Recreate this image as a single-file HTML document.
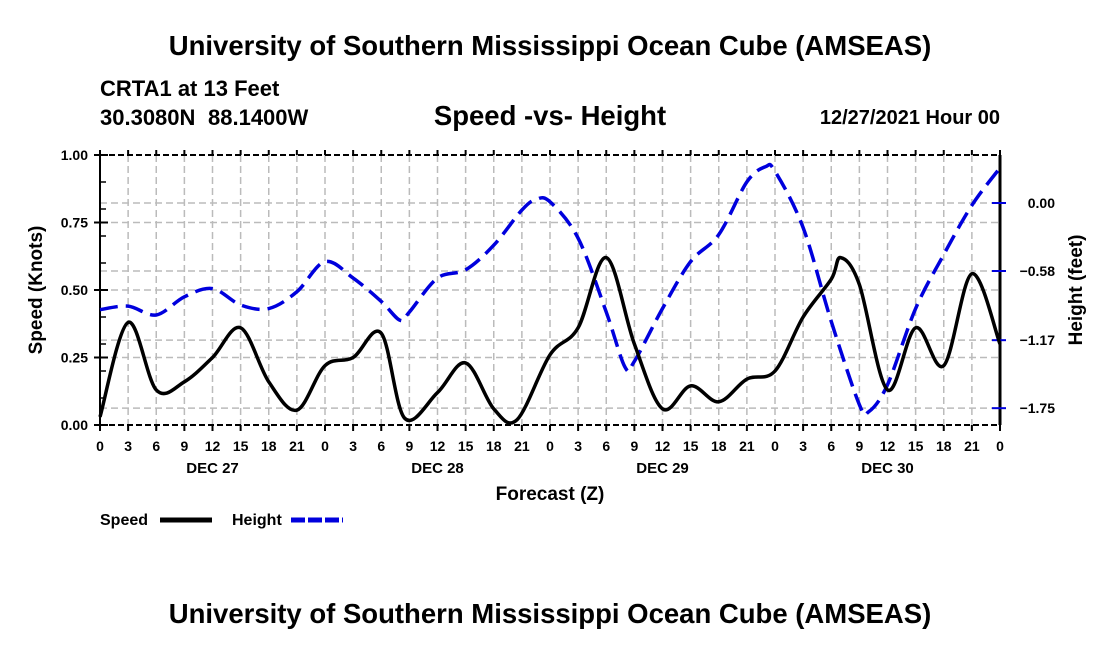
<!DOCTYPE html>
<html><head><meta charset="utf-8"><style>
body{margin:0;background:#fff;}
svg text{font-family:"Liberation Sans",Arial,sans-serif;font-weight:bold;fill:#000;}
</style></head><body>
<svg id="chart" width="1100" height="650" viewBox="0 0 1100 650">
<text x="550" y="55" font-size="27.5" text-anchor="middle">University of Southern Mississippi Ocean Cube (AMSEAS)</text>
<text x="100" y="96" font-size="22">CRTA1 at 13 Feet</text>
<text x="100" y="125" font-size="22">30.3080N</text>
<text x="208" y="125" font-size="22">88.1400W</text>
<text x="550" y="125" font-size="27.5" text-anchor="middle">Speed -vs- Height</text>
<text x="1000" y="124" font-size="20" text-anchor="end">12/27/2021 Hour 00</text>
<g id="grid"></g><g id="axes"></g><g id="series"></g>
<text x="550" y="500" font-size="19" text-anchor="middle">Forecast (Z)</text>
<text transform="translate(42,290) rotate(-90)" font-size="19" text-anchor="middle">Speed (Knots)</text>
<text transform="translate(1082,290) rotate(-90)" font-size="19" text-anchor="middle">Height (feet)</text>
<g>
<text x="100" y="525" font-size="16">Speed</text>
<line x1="160" y1="520" x2="212" y2="520" stroke="#000" stroke-width="5"/>
<text x="232" y="525" font-size="16">Height</text>
<line x1="291" y1="520" x2="343" y2="520" stroke="#0000dd" stroke-width="5" stroke-dasharray="14,3"/>
</g>
<text x="550" y="623" font-size="27.5" text-anchor="middle">University of Southern Mississippi Ocean Cube (AMSEAS)</text>
</svg>
<script>
const speedHours=[0,3,6,9,12,15,18,21,24,27,30,32.5,36,39,42,44.5,48,51,54,57,60,63,66,69,72,75,78,79,81,84,87,90,93,96];
const speedValues=[0.03,0.38,0.13,0.16,0.25,0.36,0.16,0.055,0.22,0.25,0.34,0.025,0.12,0.23,0.06,0.02,0.26,0.36,0.62,0.30,0.06,0.145,0.086,0.17,0.2,0.40,0.54,0.62,0.52,0.13,0.36,0.22,0.56,0.30];
const heightHours=[0,3,6,9,12,15,18,21,24,27,30,32,33,36,39,42,45,46.5,48,51,54,56,57,60,63,66,69,71,72,75,78,81,82,84,87,90,93,96];
const heightValues=[-0.91,-0.88,-0.955,-0.80,-0.73,-0.87,-0.90,-0.757,-0.50,-0.64,-0.84,-1.0,-0.93,-0.64,-0.57,-0.36,-0.06,0.03,0.01,-0.30,-0.93,-1.40,-1.35,-0.90,-0.50,-0.27,0.18,0.31,0.27,-0.21,-1.01,-1.72,-1.78,-1.55,-0.90,-0.44,-0.02,0.30];
const xTickLabels=["0","3","6","9","12","15","18","21"];
const dayLabels=["DEC 27","DEC 28","DEC 29","DEC 30"];
const leftTicks=[0,0.25,0.5,0.75,1.0];
const rightTicks=[0,-0.58,-1.17,-1.75];

const L=100,R=1000,T=155,B=425,NS="http://www.w3.org/2000/svg";
const xS=h=>L+h*(R-L)/96;
const yL=v=>B-v*(B-T);
const yR=v=>203-v*68/0.58;
function el(tag,attrs,parent,txt){const e=document.createElementNS(NS,tag);for(const k in attrs)e.setAttribute(k,attrs[k]);if(txt!==undefined)e.textContent=txt;parent.appendChild(e);return e;}
const grid=document.getElementById('grid'),axes=document.getElementById('axes'),series=document.getElementById('series');
for(let h=3;h<96;h+=3){const g=el('line',{x1:xS(h),x2:xS(h),y1:T,y2:B,stroke:'#bbb','stroke-width':1.5,'stroke-dasharray':'7,4'},grid);

}
leftTicks.forEach(v=>{if(v>0&&v<1){const g=el('line',{x1:L,x2:R,y1:yL(v),y2:yL(v),stroke:'#bbb','stroke-width':1.5,'stroke-dasharray':'7,4'},grid);

}});
rightTicks.forEach(v=>{const g=el('line',{x1:L,x2:R,y1:yR(v),y2:yR(v),stroke:'#bbb','stroke-width':1.5,'stroke-dasharray':'7,4'},grid);

});
let a=el('line',{x1:L,x2:L,y1:T,y2:B,stroke:'#000','stroke-width':2},axes);


a=el('line',{x1:R,x2:R,y1:T,y2:B,stroke:'#000','stroke-width':3},axes);


a=el('line',{x1:L,x2:R,y1:B,y2:B,stroke:'#000','stroke-width':2,'stroke-dasharray':'6,3'},axes);


a=el('line',{x1:L,x2:R,y1:T,y2:T,stroke:'#000','stroke-width':2,'stroke-dasharray':'6,3'},axes);


for(let i=0;i<=32;i++){const h=i*3,x=xS(h);
el('line',{x1:x,x2:x,y1:B,y2:B+6,stroke:'#000','stroke-width':2},axes);
el('line',{x1:x,x2:x,y1:T,y2:T-5,stroke:'#000','stroke-width':2},axes);
const t=el('text',{x:x,y:451,'font-size':14,'text-anchor':'middle'},axes,i===32?"0":xTickLabels[i%8]);

}
dayLabels.forEach((d,i)=>{const t=el('text',{x:xS(12+24*i),y:473,'font-size':15,'text-anchor':'middle'},axes,d);

});
for(let v=0.1;v<1;v+=0.1){el('line',{x1:L,x2:L+6,y1:yL(v),y2:yL(v),stroke:'#000','stroke-width':1.5},axes);}
leftTicks.forEach(v=>{el('line',{x1:L-6,x2:L+8,y1:yL(v),y2:yL(v),stroke:'#000','stroke-width':2},axes);
const t=el('text',{x:L-12,y:yL(v)+5,'font-size':14,'text-anchor':'end'},axes,v.toFixed(2));

});
rightTicks.forEach(v=>{el('line',{x1:R-8,x2:R+6,y1:yR(v),y2:yR(v),stroke:'#0000dd','stroke-width':2},axes);
const t=el('text',{x:R+55,y:yR(v)+5,'font-size':14,'text-anchor':'end'},axes,v.toFixed(2).replace('-','\u2212'));

});
function smooth(pts){let d=`M${pts[0][0]},${pts[0][1]}`;for(let i=0;i<pts.length-1;i++){const p0=pts[Math.max(0,i-1)],p1=pts[i],p2=pts[i+1],p3=pts[Math.min(pts.length-1,i+2)];
const c1=[p1[0]+(p2[0]-p0[0])/6,p1[1]+(p2[1]-p0[1])/6],c2=[p2[0]-(p3[0]-p1[0])/6,p2[1]-(p3[1]-p1[1])/6];
d+=` C${c1[0]},${c1[1]} ${c2[0]},${c2[1]} ${p2[0]},${p2[1]}`;}return d;}
const hp=el('path',{d:smooth(heightHours.map((h,i)=>[xS(h),yR(heightValues[i])])),fill:'none',stroke:'#0000dd','stroke-width':3.5,'stroke-dasharray':'18,8'},series);


const sp=el('path',{d:smooth(speedHours.map((h,i)=>[xS(h),yL(speedValues[i])])),fill:'none',stroke:'#000','stroke-width':3.5},series);


</script>
</body></html>
